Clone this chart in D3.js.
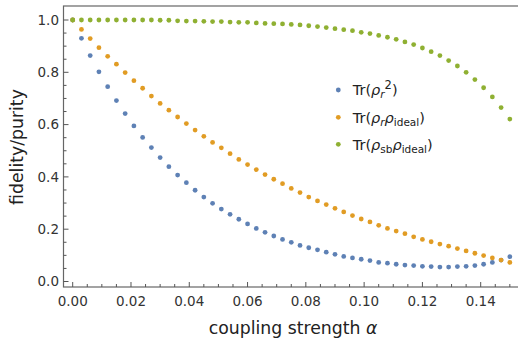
<!DOCTYPE html>
<html>
<head>
<meta charset="utf-8">
<script src="https://cdn.jsdelivr.net/npm/d3@7"></script>
<style>
  body { margin: 0; background: #fff; }
  svg { display: block; font-family: "DejaVu Sans", sans-serif; }
</style>
</head>
<body>
<div id="chart"></div>
<script>
// coupling strength alpha, step 0.003
const alphas = d3.range(51).map(i => +(i * 0.003).toFixed(3));

const purity = [1.0, 0.930, 0.864, 0.802, 0.745, 0.692, 0.642, 0.595, 0.551, 0.512,
  0.474, 0.439, 0.407, 0.378, 0.349, 0.323, 0.299, 0.277, 0.257, 0.238,
  0.220, 0.203, 0.188, 0.174, 0.161, 0.150, 0.138, 0.129, 0.121, 0.112,
  0.104, 0.096, 0.090, 0.085, 0.080, 0.073, 0.070, 0.066, 0.063, 0.061,
  0.058, 0.057, 0.055, 0.055, 0.057, 0.058, 0.061, 0.066, 0.073, 0.082, 0.095];

const fidelityR = [1.0, 0.964, 0.929, 0.894, 0.861, 0.831, 0.799, 0.768, 0.739, 0.709,
  0.681, 0.655, 0.629, 0.604, 0.579, 0.555, 0.532, 0.511, 0.489, 0.467,
  0.447, 0.428, 0.409, 0.391, 0.374, 0.356, 0.340, 0.323, 0.308, 0.294,
  0.280, 0.266, 0.252, 0.239, 0.228, 0.215, 0.203, 0.193, 0.183, 0.171,
  0.161, 0.152, 0.143, 0.135, 0.126, 0.117, 0.108, 0.099, 0.090, 0.082, 0.073];

const fidelitySb = [1.0, 1.0, 1.0, 1.0, 1.0, 1.0, 1.0, 1.0, 1.0, 1.0,
  0.999, 0.999, 0.997, 0.996, 0.996, 0.995, 0.994, 0.994, 0.992, 0.991,
  0.991, 0.989, 0.987, 0.986, 0.985, 0.983, 0.981, 0.978, 0.975, 0.971,
  0.967, 0.963, 0.959, 0.953, 0.948, 0.941, 0.934, 0.926, 0.916, 0.906,
  0.893, 0.879, 0.864, 0.845, 0.824, 0.800, 0.772, 0.741, 0.706, 0.665, 0.621];

const xTicks = [0, 0.02, 0.04, 0.06, 0.08, 0.10, 0.12, 0.14];
const yTicks = [0, 0.2, 0.4, 0.6, 0.8, 1.0];

const seriesNames = ["purity", "fidelityR", "fidelitySb"];
const colors = ["#5e81b5", "#e19c24", "#8fb032"];

const width = 518, height = 339;

const svg = d3.select("#chart").append("svg")
  .attr("width", width)
  .attr("height", height);

const x = d3.scaleLinear().domain([0, 0.14]).range([72.7, 480.7]);
const y = d3.scaleLinear().domain([0, 1]).range([281.5, 20]);

const frameLeft = 63.5, frameTop = 6, frameBottom = 287, frameRight = 520;

// frame
svg.append("rect")
  .attr("x", frameLeft)
  .attr("y", frameTop)
  .attr("width", frameRight - frameLeft)
  .attr("height", frameBottom - frameTop)
  .attr("fill", "none")
  .attr("stroke", "#666")
  .attr("stroke-width", 1.2);

// x ticks, drawn inward
const xMinor = d3.range(0, 0.1501, 0.005);
svg.append("g").selectAll("line")
  .data(xMinor)
  .join("line")
  .attr("x1", d => x(d))
  .attr("x2", d => x(d))
  .attr("y1", frameBottom)
  .attr("y2", (d, i) => i % 4 === 0 ? frameBottom - 5 : frameBottom - 3)
  .attr("stroke", "#555")
  .attr("stroke-width", 1);

svg.append("g").selectAll("text")
  .data(xTicks)
  .join("text")
  .attr("x", d => x(d))
  .attr("y", 306)
  .attr("text-anchor", "middle")
  .attr("font-size", 13.5)
  .attr("fill", "#333")
  .text(d => d3.format(".2f")(d));

// y ticks
const yMinor = d3.range(0, 1.0001, 0.05);
svg.append("g").selectAll("line")
  .data(yMinor)
  .join("line")
  .attr("x1", frameLeft)
  .attr("x2", (d, i) => i % 4 === 0 ? frameLeft + 5 : frameLeft + 3)
  .attr("y1", d => y(d))
  .attr("y2", d => y(d))
  .attr("stroke", "#555")
  .attr("stroke-width", 1);

svg.append("g").selectAll("text")
  .data(yTicks)
  .join("text")
  .attr("x", 59)
  .attr("y", d => y(d) + 4.8)
  .attr("text-anchor", "end")
  .attr("font-size", 13.5)
  .attr("fill", "#333")
  .text(d => d3.format(".1f")(d));

// axis titles
svg.append("text")
  .attr("x", 293)
  .attr("y", 334)
  .attr("text-anchor", "middle")
  .attr("font-size", 17.3)
  .attr("fill", "#222")
  .html('coupling strength <tspan font-style="italic">α</tspan>');

svg.append("text")
  .attr("transform", "translate(23,147) rotate(-90)")
  .attr("text-anchor", "middle")
  .attr("font-size", 17.3)
  .attr("fill", "#222")
  .text("fidelity/purity");

// points
const allSeries = [purity, fidelityR, fidelitySb];
allSeries.forEach((values, s) => {
  svg.append("g")
    .attr("class", seriesNames[s])
    .selectAll("circle")
    .data(values)
    .join("circle")
    .attr("cx", (d, i) => x(alphas[i]))
    .attr("cy", d => y(d))
    .attr("r", 2.4)
    .attr("fill", colors[s]);
});

// legend
const legendRows = [
  '<tspan>Tr(</tspan><tspan font-style="italic">ρ</tspan><tspan font-style="italic" font-size="10.5" dy="3">r</tspan><tspan font-size="11.5" dy="-9">2</tspan><tspan dy="6">)</tspan>',
  '<tspan>Tr(</tspan><tspan font-style="italic">ρ</tspan><tspan font-style="italic" font-size="10.5" dy="3">r</tspan><tspan font-style="italic" dy="-3">ρ</tspan><tspan font-size="10.5" dy="3">ideal</tspan><tspan dy="-3">)</tspan>',
  '<tspan>Tr(</tspan><tspan font-style="italic">ρ</tspan><tspan font-size="10.5" dy="3">sb</tspan><tspan font-style="italic" dy="-3">ρ</tspan><tspan font-size="10.5" dy="3">ideal</tspan><tspan dy="-3">)</tspan>'
];
const legendY = [90, 117.3, 144.3];

const legend = svg.append("g");
legendRows.forEach((html, i) => {
  legend.append("circle")
    .attr("cx", 338.3)
    .attr("cy", legendY[i])
    .attr("r", 2.4)
    .attr("fill", colors[i]);
  legend.append("text")
    .attr("x", 352.7)
    .attr("y", legendY[i] + 5.2)
    .attr("font-size", 14.5)
    .attr("fill", "#222")
    .html(html);
});
</script>
</body>
</html>
